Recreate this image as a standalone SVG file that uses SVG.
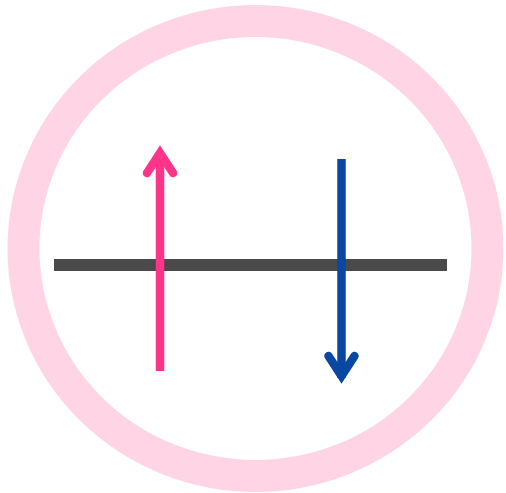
<svg xmlns="http://www.w3.org/2000/svg" width="506" height="493" viewBox="0 0 506 493">
<style>
.ring{fill:none;stroke:#ffd5e5;stroke-width:32}
.bar{stroke:#4a4a4a;stroke-width:12;stroke-linecap:butt}
.up{fill:none;stroke:#ff3388;stroke-width:8.5;stroke-linecap:round;stroke-linejoin:miter}
.down{fill:none;stroke:#0a47a1;stroke-width:8.5;stroke-linecap:round;stroke-linejoin:miter}
.shaft{stroke-linecap:butt}
</style>
<rect width="506" height="493" fill="#ffffff"/>
<g id="ring"><ellipse class="ring" cx="255.5" cy="248.5" rx="232" ry="227.5"/></g>
<g id="bar"><line class="bar" x1="54" y1="265" x2="447" y2="265"/></g>
<g id="connectors">
<g id="up-arrow"><line class="up shaft" x1="160" y1="371" x2="160" y2="152"/><polyline class="up" points="147,173 160,153 173,173"/></g>
<g id="down-arrow"><line class="down shaft" x1="341.5" y1="159" x2="341.5" y2="378"/><polyline class="down" points="328.5,356 341.5,376 354.5,356"/></g>
</g>
</svg>
